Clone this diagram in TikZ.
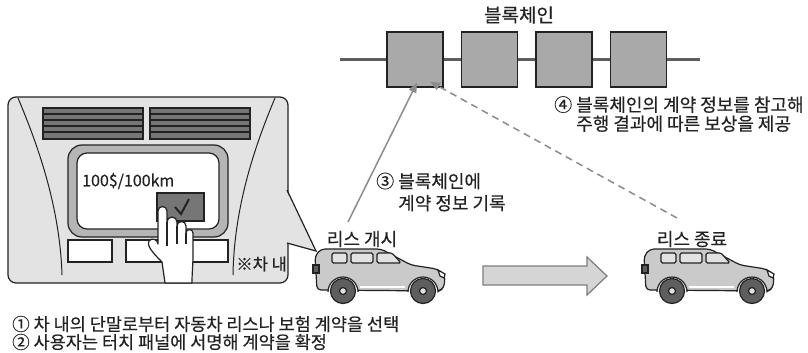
\documentclass[tikz,border=0pt]{standalone}
\usepackage{fontspec}
\setmainfont{Noto Sans CJK KR}[UprightFeatures={FakeBold=0.4}]
\usetikzlibrary{positioning,arrows.meta}

\definecolor{ink}{HTML}{222222}
\definecolor{panelgray}{HTML}{E3E3E3}
\definecolor{ventgray}{HTML}{767676}
\definecolor{framegray}{HTML}{B5B5B5}
\definecolor{blockgray}{HTML}{A9A9A9}
\definecolor{carbody}{HTML}{CACACA}
\definecolor{carglass}{HTML}{E2E2E2}
\definecolor{wheelgray}{HTML}{5E5E5E}
\definecolor{arrowgray}{HTML}{8C8C8C}

\tikzset{
  txt/.style={font=\fontsize{18}{21}\selectfont, text=ink, inner sep=0pt},
  block/.style={draw=ink, line width=1.2pt, fill=blockgray,
    minimum width=56pt, minimum height=55pt, inner sep=0pt},
  line/.style={draw=ink, line width=1.2pt},
  link/.style={arrowgray, line width=1.5pt, -{Triangle[length=10pt,width=8pt]}},
  suv/.pic={
    \draw[line, fill=carbody, rounded corners=4]
      (4,42) -- (2,8) -- (8,1) -- (68,1) -- (98,17) -- (124,21)
      -- (132,27) -- (131,40) -- (126,43) -- cycle;
    % windows
    \draw[line, fill=carglass, rounded corners=1.5] (19,5) rectangle (34,15);
    \draw[line, fill=carglass, rounded corners=1.5] (38,5) rectangle (60,15);
    \draw[line, fill=carglass, rounded corners=1.5] (64,5) -- (79,5) -- (88,15) -- (64,15) -- cycle;
    % lights and sill
    \draw[line, fill=wheelgray] (0,17) rectangle (6,25);
    \draw[line, fill=white] (125,22) -- (132,26) -- (131,30) -- (127,28) -- cycle;
    \draw[white, line width=1.5pt] (47,39) -- (92,39);
    % wheels
    \foreach \w in {30,110}{
      \fill[white] (\w-15,44) arc[start angle=180, end angle=360, radius=15] -- cycle;
      \draw[line] (\w-15,44) arc[start angle=180, end angle=360, radius=15];
      \draw[line, fill=wheelgray] (\w,43) circle[radius=12.5];
      \draw[line, fill=carglass] (\w,43) circle[radius=3.5];
    }
  }
}

\begin{document}
\begin{tikzpicture}[x=1pt, y=-1pt]
\useasboundingbox (0,0) rectangle (808,353);

% in-car terminal
\draw[line, fill=panelgray, rounded corners=8] (8,97) rectangle (288,283);
\fill[panelgray] (286,190) -- (316,251) -- (286,243) -- cycle;
\draw[line] (287,190) -- (316,251) -- (287,243);
\draw[ink, line width=1pt] (18,98) .. controls (40,150) and (60,210) .. (62,275);
\draw[ink, line width=1pt] (275,98) .. controls (253,150) and (234,210) .. (233,275);

% air vents
\foreach \x in {43,150}{
  \draw[line, fill=ventgray] (\x,108) rectangle (\x+100,139);
  \foreach \y in {114,120,126,132}
    \draw[ink, line width=1.4pt] (\x,\y) -- (\x+100,\y);
}

% touch screen
\draw[line, fill=framegray, rounded corners=14] (68,145) rectangle (228,237);
\draw[line, fill=white, rounded corners=10] (77,153) rectangle (219,229);
\node[txt, font=\fontsize{16}{19}\selectfont, anchor=west] (price) at (82,181) {100\$/100km};
\draw[line, fill=ventgray] (157,193) rectangle (204,221);
\draw[ink, line width=2pt] (175,207) -- (181,214) -- (189,199);

% buttons
\foreach \x in {68,126,184}
  \draw[line, fill=white] (\x,240) rectangle (\x+44,262);

% hand
\draw[line, fill=white, line join=round]
  (165,283) -- (162,262) .. controls (155,255) and (146,246) .. (149,241)
  .. controls (152,237) and (158,240) .. (158,244)
  -- (158,211) arc[start angle=180, end angle=360, radius=4.5]
  -- (167,222) arc[start angle=180, end angle=360, radius=5]
  -- (177,226) arc[start angle=180, end angle=360, radius=4.5]
  -- (186,233) arc[start angle=180, end angle=360, radius=3.5]
  -- (193,255) .. controls (193,265) and (192,272) .. (192,283) -- cycle;
\draw[line] (167,222) -- (167,246);
\draw[line] (177,226) -- (177,244);
\draw[line] (186,233) -- (186,244);
\node[txt, font=\fontsize{16.5}{19}\selectfont, anchor=east] (incar) at (287,264) {※차 내};

% blockchain
\coordinate (cl) at (340,59.5);
\coordinate (cr) at (700,59.5);
\draw[wheelgray, line width=3pt] (cl) -- (cr);
\foreach \i/\x in {1/415,2/489.5,3/564,4/638.5}
  \node[block] (blk\i) at (\x,59.5) {};
\node[txt, font=\fontsize{19}{21}\selectfont] (chain) at (519,15) {블록체인};

% lease start and end
\pic at (313,248) {suv};
\pic at (642,248) {suv};
\node[txt] (start) at (362,239) {리스 개시};
\node[txt] (end) at (692,239) {리스 종료};
\draw[draw=arrowgray!90!black, fill=carbody!80!white, line width=1.2pt]
  (483,266) -- (587,266) -- (587,257) -- (607,276) -- (587,295)
  -- (587,285) -- (483,285) -- cycle;

% contract records
\coordinate (rec) at (348,222);
\coordinate (pay) at (677,218);
\draw[link] (rec) -- ([xshift=2pt, yshift=5pt]blk1.south);
\draw[link, dash pattern=on 7pt off 5pt] (pay) -- ([xshift=15pt, yshift=6pt]blk1.south);

\node[txt, align=left, anchor=west, font=\fontsize{18}{22}\selectfont] (step3) at (376,192)
  {③ 블록체인에\\\hphantom{③ }계약 정보 기록};
\node[txt, align=left, anchor=west, font=\fontsize{18}{19}\selectfont] (step4) at (554,114)
  {④ 블록체인의 계약 정보를 참고해\\\hphantom{④ }주행 결과에 따른 보상을 제공};
\node[txt, align=left, anchor=west, font=\fontsize{17.5}{18}\selectfont] (steps) at (12,333)
  {① 차 내의 단말로부터 자동차 리스나 보험 계약을 선택\\② 사용자는 터치 패널에 서명해 계약을 확정};

\end{tikzpicture}
\end{document}
